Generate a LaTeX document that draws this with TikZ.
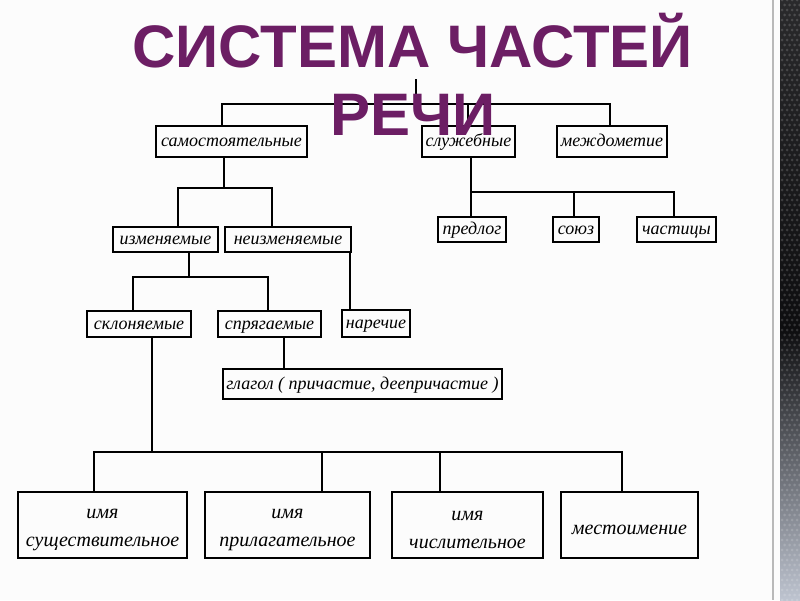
\documentclass[tikz,border=0pt]{standalone}
\usepackage{fontspec}
\setmainfont{Liberation Serif}
\newfontfamily\titlefont{Liberation Sans}
\definecolor{titlepurple}{RGB}{108,30,100}
\definecolor{stripdark}{RGB}{14,14,16}
\definecolor{striptop}{RGB}{42,42,44}
\definecolor{stripbot}{RGB}{190,196,208}
\tikzset{
  bxbase/.style={draw, line width=1.8pt, inner sep=0pt, align=center},
  bx/.style={bxbase, text height=12pt, text depth=2pt,
    font=\itshape\fontsize{18}{20}\selectfont},
  bigbx/.style={bxbase, font=\itshape\fontsize{20}{28}\selectfont},
  conn/.style={line width=1.8pt, line cap=rect},
  ttl/.style={anchor=base, text=titlepurple, inner sep=0pt,
    font=\titlefont\bfseries\fontsize{60}{60}\selectfont}
}
\begin{document}
\begin{tikzpicture}[x=1pt,y=-1pt]
\useasboundingbox (0,0) rectangle (800,600);
\fill[white!98!gray] (0,0) rectangle (800,600);
% right decoration
\draw[gray!55, line width=1.3pt] (773,0) -- (773,600);
\shade[top color=striptop, bottom color=stripdark] (780,0) rectangle (800,330.5);
\shade[top color=stripdark, bottom color=stripbot] (780,330) rectangle (800,600);
\foreach \r in {0,...,120}{
  \pgfmathsetmacro{\off}{mod(\r,2)*2.5}
  \foreach \c in {0,1,2,3}{
    \fill[white, opacity=0.16] (782+\c*5+\off,\r*5) circle (1.5);
  }
}
% boxes
\node[bx, minimum width=151pt, minimum height=31pt] (samost) at (231.5,141.5) {самостоятельные};
\node[bx, minimum width=93pt, minimum height=31pt] (sluzh) at (468.5,141.5) {служебные};
\node[bx, minimum width=110pt, minimum height=31pt] (mezhd) at (612,141.5) {междометие};
\node[bx, minimum width=68pt, minimum height=25pt] (predlog) at (472,229.5) {предлог};
\node[bx, minimum width=46pt, minimum height=25pt] (soyuz) at (576,229.5) {союз};
\node[bx, minimum width=79pt, minimum height=25pt] (chast) at (676.5,229.5) {частицы};
\node[bx, minimum width=105pt, minimum height=25pt] (izmen) at (165.5,239.5) {изменяемые};
\node[bx, minimum width=126pt, minimum height=25pt] (neizm) at (288,239.5) {неизменяемые};
\node[bx, minimum width=104pt, minimum height=26pt] (sklon) at (139,324) {склоняемые};
\node[bx, minimum width=103pt, minimum height=26pt] (spryag) at (269.5,324) {спрягаемые};
\node[bx, minimum width=68pt, minimum height=27pt] (narech) at (376,323.5) {наречие};
\node[bx, minimum width=279pt, minimum height=30pt] (glagol) at (362.5,384) {глагол ( причастие, деепричастие )};
\node[bigbx, minimum width=169pt, minimum height=66pt] (b1) at (102.5,525) {\rule{0pt}{19pt}имя\\существительное};
\node[bigbx, minimum width=165pt, minimum height=66pt] (b2) at (287.5,525) {\rule{0pt}{19pt}имя\\прилагательное};
\node[bigbx, minimum width=151pt, minimum height=66pt] (b3) at (467.5,525) {\rule{0pt}{19pt}имя\\числительное};
\node[bigbx, minimum width=137pt, minimum height=66pt] (b4) at (629.5,525) {\rule{0pt}{19pt}местоимение};
% connectors: top level
\coordinate (rt) at (416,80);
\coordinate (rb) at (416,104);
\coordinate (t1) at (222,104);
\coordinate (ts) at (468,104);
\coordinate (t2) at (610,104);
\draw[conn] (rt) -- (rb);
\draw[conn] (t1) -- (t2);
\draw[conn] (t1) -- (t1 |- samost.north);
\draw[conn] (ts) -- (ts |- sluzh.north);
\draw[conn] (t2) -- (t2 |- mezhd.north);
% samostoyatelnye
\coordinate (s0) at (224,188);
\coordinate (s1) at (178,188);
\coordinate (s2) at (272,188);
\draw[conn] (s0 |- samost.south) -- (s0);
\draw[conn] (s1) -- (s2);
\draw[conn] (s1) -- (s1 |- izmen.north);
\draw[conn] (s2) -- (s2 |- neizm.north);
% izmenyaemye
\coordinate (i0) at (189,277);
\coordinate (i1) at (133,277);
\coordinate (i2) at (268,277);
\draw[conn] (i0 |- izmen.south) -- (i0);
\draw[conn] (i1) -- (i2);
\draw[conn] (i1) -- (i1 |- sklon.north);
\draw[conn] (i2) -- (i2 |- spryag.north);
% neizmenyaemye -> narechie
\coordinate (n0) at (350,280);
\draw[conn] (n0 |- neizm.south) -- (n0 |- narech.north);
% spryagaemye -> glagol
\coordinate (g0) at (284,350);
\draw[conn] (g0 |- spryag.south) -- (g0 |- glagol.north);
% sklonyaemye
\coordinate (k0) at (152,452);
\coordinate (k1) at (94,452);
\coordinate (k2) at (322,452);
\coordinate (k3) at (440,452);
\coordinate (k4) at (622,452);
\draw[conn] (k0 |- sklon.south) -- (k0);
\draw[conn] (k1) -- (k4);
\draw[conn] (k1) -- (k1 |- b1.north);
\draw[conn] (k2) -- (k2 |- b2.north);
\draw[conn] (k3) -- (k3 |- b3.north);
\draw[conn] (k4) -- (k4 |- b4.north);
% sluzhebnye
\coordinate (l0) at (471,192);
\coordinate (l2) at (574,192);
\coordinate (l3) at (674,192);
\draw[conn] (l0 |- sluzh.south) -- (l0);
\draw[conn] (l0) -- (l3);
\draw[conn] (l0) -- (l0 |- predlog.north);
\draw[conn] (l2) -- (l2 |- soyuz.north);
\draw[conn] (l3) -- (l3 |- chast.north);
% title
\node[ttl] (title1) at (412.5,67) {СИСТЕМА ЧАСТЕЙ};
\node[ttl] (title2) at (413,135) {РЕЧИ};
\end{tikzpicture}
\end{document}
